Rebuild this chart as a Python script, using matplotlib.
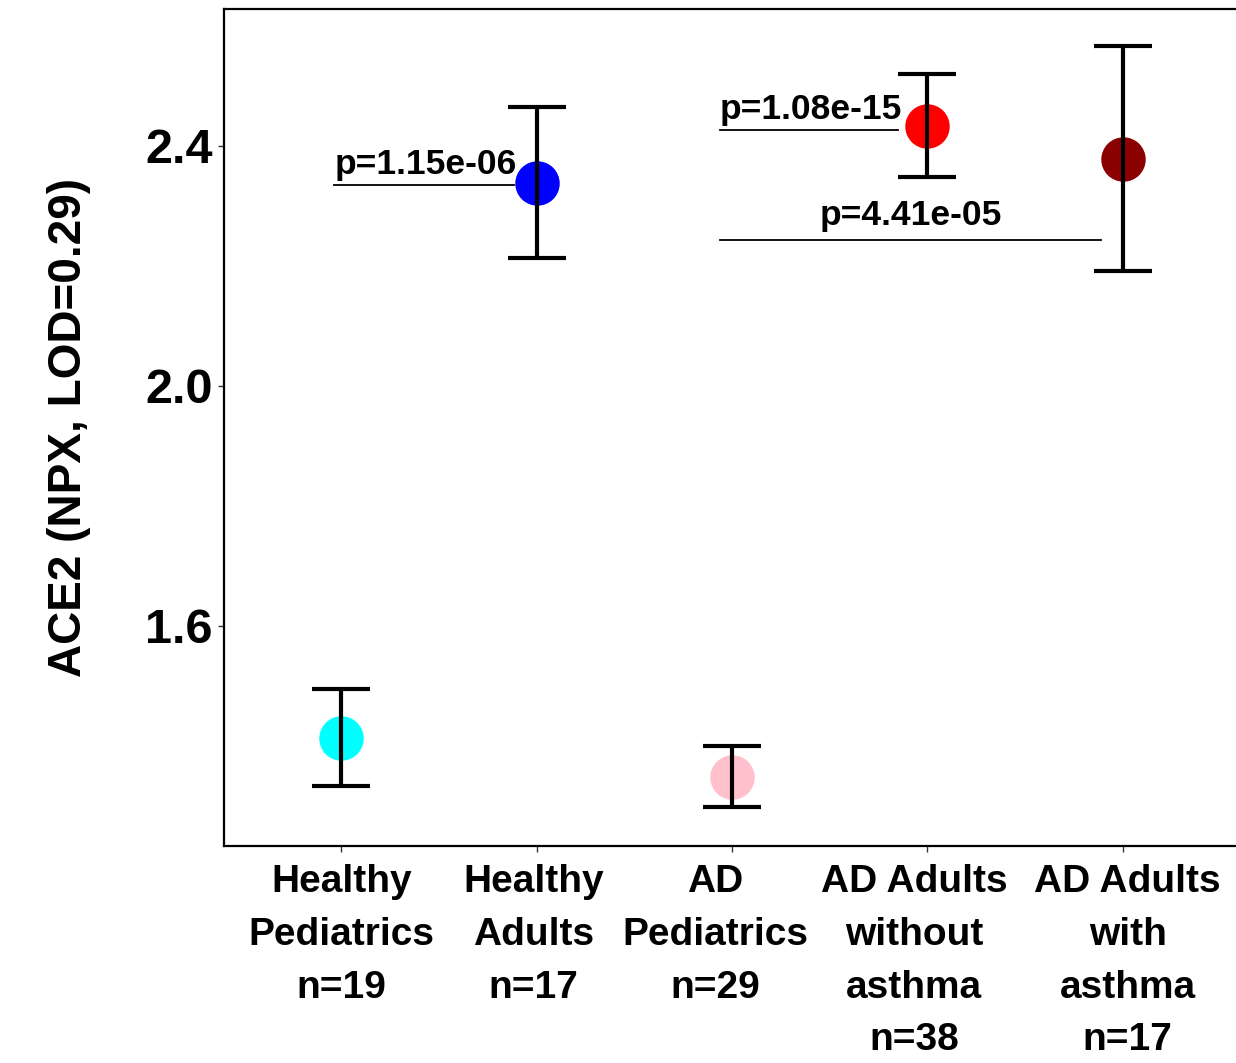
import matplotlib
matplotlib.use("Agg")
import matplotlib.pyplot as plt
from matplotlib.transforms import ScaledTranslation

categories = ["Healthy\nPediatrics\nn=19", "Healthy\nAdults\nn=17", "AD\nPediatrics\nn=29",
              "AD Adults\nwithout\nasthma\nn=38", "AD Adults\nwith\nasthma\nn=17"]
means = [1.413, 2.338, 1.348, 2.433, 2.378]
lower = [1.332, 2.213, 1.297, 2.348, 2.192]
upper = [1.495, 2.465, 1.400, 2.520, 2.567]
colors = ["#00FFFF", "#0000FF", "#FFC0CB", "#FF0000", "#8B0000"]
y_ticks = [1.6, 2.0, 2.4]
y_label = "ACE2 (NPX, LOD=0.29)"

# p-value annotations: text, x-start, x-end, line y
pvals = ["p=1.15e-06", "p=1.08e-15", "p=4.41e-05"]
p_x0 = [0.964, 2.939, 2.939]
p_x1 = [1.885, 3.849, 4.888]
p_y = [2.335, 2.427, 2.243]

# horizontal nudges of tick labels (pixels), as seen in the original layout
label_shift_px = [0, -3, -17, -13, 5]

plt.rcParams['font.family'] = ['Liberation Sans', 'DejaVu Sans']
fig = plt.figure(figsize=(12.36, 10.63), dpi=100)
ax = fig.add_axes([224/1236, 1 - 846/1063, (1240-224)/1236, (846-9)/1063])

xs = list(range(1, len(categories) + 1))
for x, m, c in zip(xs, means, colors):
    ax.plot([x], [m], 'o', color=c, markersize=32, zorder=2, markeredgewidth=0)
for x, m, lo, hi in zip(xs, means, lower, upper):
    ax.errorbar([x], [m], yerr=[[m - lo], [hi - m]], fmt='none', ecolor='black',
                elinewidth=3.0, capsize=21.2, capthick=3.0, zorder=3)

for t, x0, x1, y in zip(pvals, p_x0, p_x1, p_y):
    ax.plot([x0, x1], [y, y], color='black', lw=1.3, zorder=1)
for t, x0, x1, y in zip(pvals[:2], p_x0[:2], p_x1[:2], p_y[:2]):
    ax.text(x0, y + 0.018, t, ha='left', va='baseline', fontsize=25.5, fontweight='bold')
ax.text(3.916, p_y[2] + 0.025, pvals[2], ha='center', va='baseline', fontsize=25.5, fontweight='bold')

ax.set_xlim(0.4, 5.6)
ax.set_ylim(1.2325, 2.628)
ax.set_xticks(xs)
ax.set_xticklabels([])
for x, lab, dx in zip(xs, categories, label_shift_px):
    tr = ax.get_xaxis_transform() + ScaledTranslation(dx / 100, -18 / 100, fig.dpi_scale_trans)
    ax.text(x, 0, lab, transform=tr, ha='center', va='top', fontsize=28,
            fontweight='bold', linespacing=1.6, multialignment='center', clip_on=False)
ax.set_yticks(y_ticks)
ax.set_yticklabels([f"{v:.1f}" for v in y_ticks], fontsize=35, fontweight='bold')
ax.tick_params(axis='both', length=4, width=1, color='#333333')
ax.tick_params(axis='y', pad=4)
ax.set_ylabel(y_label, fontsize=33, fontweight='bold', labelpad=39)
for s in ['left', 'bottom', 'top']:
    ax.spines[s].set_linewidth(1.6)
ax.spines['right'].set_visible(False)

fig.savefig("out.png", dpi=100)
